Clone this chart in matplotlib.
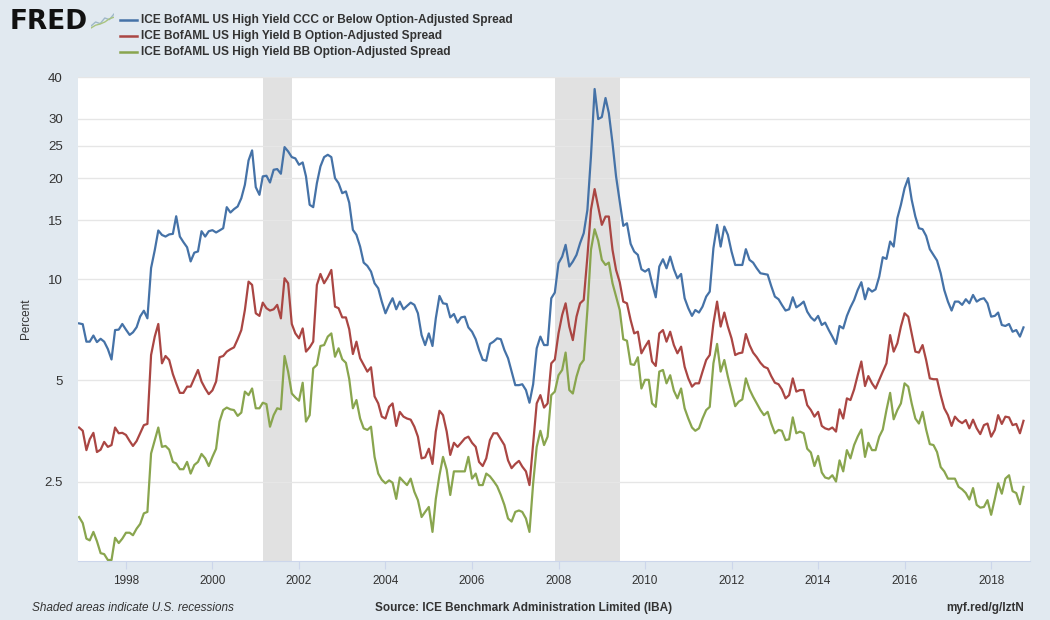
import matplotlib
matplotlib.use("Agg")
import matplotlib.pyplot as plt
import matplotlib.ticker as mticker
import matplotlib.dates as mdates
import pandas as pd

# monthly averages, Dec 1996 .. Oct 2018 (percent)
ccc = [7.39,
       7.35, 6.52, 6.52, 6.80, 6.50, 6.65, 6.52, 6.20, 5.77, 7.06, 7.08, 7.36,  # 1997
       7.08, 6.83, 6.95, 7.20, 7.75, 8.06, 7.65, 10.8, 12.2, 13.97, 13.55, 13.4,  # 1998
       13.6, 13.65, 15.4, 13.4, 12.9, 12.45, 11.3, 12.0, 12.1, 13.9, 13.4, 13.9,  # 1999
       14.0, 13.78, 13.97, 14.19, 16.39, 15.80, 16.17, 16.47, 17.43, 19.11, 22.58, 24.19,  # 2000
       18.80, 17.84, 20.24, 20.33, 19.41, 21.18, 21.28, 20.61, 24.74, 24.02, 23.10, 22.90,  # 2001
       21.92, 22.27, 20.24, 16.66, 16.39, 19.32, 21.67, 23.10, 23.47, 23.10, 20.00, 19.32,  # 2002
       18.04, 18.26, 16.9, 14.03, 13.56, 12.51, 11.21, 10.96, 10.54, 9.73, 9.40, 8.58,  # 2003
       7.92, 8.39, 8.78, 8.14, 8.58, 8.14, 8.33, 8.52, 8.39, 7.92, 6.82, 6.37,  # 2004
       6.90, 6.33, 7.65, 8.92, 8.48, 8.44, 7.70, 7.88, 7.43, 7.70, 7.74, 7.19,  # 2005
       6.98, 6.63, 6.16, 5.76, 5.72, 6.42, 6.52, 6.67, 6.63, 6.16, 5.82, 5.31,  # 2006
       4.84, 4.84, 4.87, 4.68, 4.29, 4.87, 6.23, 6.75, 6.37, 6.37, 8.78, 9.13,  # 2007
       11.16, 11.68, 12.66, 10.91, 11.29, 11.82, 12.80, 13.71, 16.09, 23.21, 36.84, 29.98,  # 2008
       30.40, 34.63, 31.25, 25.43, 20.24, 17.0, 14.42, 14.68, 12.75, 12.09, 11.82, 10.71,  # 2009
       10.54, 10.73, 9.73, 8.84, 10.91, 11.47, 10.78, 11.68, 10.71, 10.07, 10.37, 8.78,  # 2010
       8.20, 7.78, 8.10, 7.96, 8.29, 8.88, 9.19, 12.37, 14.52, 12.51, 14.35, 13.56,  # 2011
       12.09, 11.03, 11.03, 11.03, 12.29, 11.42, 11.21, 10.78, 10.42, 10.37, 10.32, 9.55,  # 2012
       8.88, 8.72, 8.39, 8.07, 8.14, 8.84, 8.25, 8.39, 8.58, 8.01, 7.70, 7.53,  # 2013
       7.78, 7.31, 7.43, 7.06, 6.75, 6.42, 7.26, 7.14, 7.78, 8.25, 8.68, 9.29,  # 2014
       9.80, 8.72, 9.40, 9.19, 9.33, 10.18, 11.63, 11.50, 12.95, 12.51, 15.20, 16.66,  # 2015
       18.67, 20.0, 17.24, 15.37, 14.19, 14.09, 13.46, 12.29, 11.82, 11.37, 10.42, 9.29,  # 2016
       8.58, 8.07, 8.58, 8.58, 8.39, 8.72, 8.48, 8.98, 8.58, 8.72, 8.78, 8.48,  # 2017
       7.74, 7.78, 7.96, 7.31, 7.26, 7.36, 6.98, 7.06, 6.75, 7.19]  # 2018

b = [3.62,
     3.54, 3.10, 3.34, 3.49, 3.06, 3.11, 3.28, 3.17, 3.21, 3.62, 3.48, 3.49,  # 1997
     3.44, 3.30, 3.19, 3.30, 3.48, 3.68, 3.71, 5.95, 6.75, 7.36, 5.62, 5.91,  # 1998
     5.75, 5.22, 4.90, 4.59, 4.59, 4.79, 4.79, 5.07, 5.37, 4.96, 4.73, 4.55,  # 1999
     4.67, 4.96, 5.86, 5.91, 6.09, 6.19, 6.27, 6.63, 7.06, 8.10, 9.84, 9.62,  # 2000
     7.92, 7.78, 8.52, 8.20, 8.07, 8.14, 8.39, 7.65, 10.07, 9.73, 7.36, 6.90,  # 2001
     6.67, 7.14, 6.09, 6.27, 6.52, 9.62, 10.37, 9.73, 10.14, 10.66, 8.29, 8.20,  # 2002
     7.70, 7.70, 7.10, 5.99, 6.52, 5.82, 5.56, 5.31, 5.47, 4.48, 4.27, 3.90,  # 2003
     3.85, 4.17, 4.27, 3.66, 4.03, 3.90, 3.85, 3.82, 3.64, 3.40, 2.93, 2.95,  # 2004
     3.13, 2.82, 3.52, 4.06, 3.94, 3.52, 3.00, 3.26, 3.17, 3.26, 3.36, 3.40,  # 2005
     3.26, 3.17, 2.86, 2.78, 2.93, 3.32, 3.48, 3.48, 3.34, 3.21, 2.89, 2.74,  # 2006
     2.82, 2.88, 2.77, 2.68, 2.44, 3.25, 4.27, 4.52, 4.15, 4.27, 5.62, 5.77,  # 2007
     6.90, 7.83, 8.48, 7.23, 6.59, 7.74, 8.48, 8.68, 11.68, 16.09, 18.55, 16.47,  # 2008
     14.52, 15.37, 15.37, 12.23, 10.66, 9.8, 8.58, 8.48, 7.56, 6.90, 6.98, 6.02,  # 2009
     6.30, 6.56, 5.69, 5.52, 6.90, 7.06, 6.52, 6.98, 6.37, 6.02, 6.30, 5.49,  # 2010
     5.07, 4.79, 4.90, 4.90, 5.31, 5.75, 5.95, 7.39, 8.58, 7.23, 7.96, 7.23,  # 2011
     6.67, 5.95, 6.02, 6.05, 6.87, 6.37, 6.05, 5.86, 5.64, 5.49, 5.43, 5.15,  # 2012
     4.92, 4.87, 4.70, 4.42, 4.52, 5.07, 4.63, 4.68, 4.68, 4.22, 4.08, 3.90,  # 2013
     4.03, 3.66, 3.60, 3.57, 3.62, 3.52, 4.10, 3.85, 4.42, 4.37, 4.70, 5.18,  # 2014
     5.69, 4.81, 5.15, 4.90, 4.73, 5.02, 5.31, 5.62, 6.82, 6.09, 6.45, 7.23,  # 2015
     7.92, 7.74, 6.90, 6.09, 6.05, 6.37, 5.75, 5.07, 5.04, 5.04, 4.52, 4.13,  # 2016
     3.94, 3.66, 3.90, 3.79, 3.73, 3.81, 3.60, 3.82, 3.60, 3.46, 3.68, 3.72,  # 2017
     3.40, 3.56, 3.94, 3.71, 3.90, 3.88, 3.68, 3.71, 3.48, 3.79]  # 2018

bb = [1.96,
      1.88, 1.69, 1.67, 1.77, 1.66, 1.53, 1.52, 1.46, 1.46, 1.70, 1.64, 1.69,  # 1997
      1.76, 1.76, 1.73, 1.81, 1.87, 2.01, 2.03, 3.03, 3.32, 3.62, 3.17, 3.19,  # 1998
      3.11, 2.86, 2.83, 2.72, 2.72, 2.86, 2.64, 2.80, 2.86, 3.02, 2.93, 2.78,  # 1999
      2.96, 3.13, 3.77, 4.08, 4.15, 4.10, 4.08, 3.92, 4.01, 4.63, 4.52, 4.73,  # 2000
      4.13, 4.13, 4.29, 4.25, 3.64, 3.94, 4.13, 4.10, 5.91, 5.31, 4.57, 4.45,  # 2001
      4.35, 4.92, 3.77, 3.94, 5.43, 5.56, 6.33, 6.37, 6.75, 6.90, 5.88, 6.23,  # 2002
      5.78, 5.64, 5.05, 4.13, 4.37, 3.85, 3.60, 3.56, 3.64, 2.96, 2.64, 2.53,  # 2003
      2.47, 2.52, 2.48, 2.22, 2.57, 2.50, 2.44, 2.55, 2.33, 2.20, 1.96, 2.03,  # 2004
      2.10, 1.77, 2.22, 2.61, 2.96, 2.71, 2.28, 2.68, 2.68, 2.68, 2.68, 2.96,  # 2005
      2.55, 2.64, 2.44, 2.44, 2.64, 2.59, 2.51, 2.42, 2.28, 2.13, 1.94, 1.90,  # 2006
      2.03, 2.05, 2.03, 1.94, 1.77, 2.47, 3.17, 3.54, 3.21, 3.40, 4.52, 4.63,  # 2007
      5.18, 5.37, 6.05, 4.68, 4.57, 5.13, 5.56, 5.75, 8.10, 12.23, 14.09, 13.04,  # 2008
      11.42, 11.03, 11.21, 9.73, 8.88, 8.1, 6.63, 6.56, 5.59, 5.56, 5.86, 4.73,  # 2009
      5.02, 5.02, 4.27, 4.17, 5.31, 5.37, 4.90, 5.18, 4.66, 4.42, 4.73, 4.13,  # 2010
      3.85, 3.62, 3.54, 3.60, 3.85, 4.08, 4.17, 5.62, 6.42, 5.31, 5.75, 5.13,  # 2011
      4.63, 4.19, 4.32, 4.39, 5.07, 4.70, 4.47, 4.27, 4.08, 3.94, 4.03, 3.72,  # 2012
      3.48, 3.56, 3.54, 3.32, 3.34, 3.88, 3.48, 3.52, 3.48, 3.13, 3.05, 2.78,  # 2013
      2.98, 2.66, 2.57, 2.55, 2.61, 2.50, 2.89, 2.68, 3.10, 2.93, 3.21, 3.40,  # 2014
      3.57, 2.96, 3.26, 3.10, 3.10, 3.40, 3.57, 4.08, 4.59, 3.83, 4.08, 4.27,  # 2015
      4.90, 4.79, 4.27, 3.85, 3.72, 4.03, 3.57, 3.23, 3.21, 3.06, 2.76, 2.68,  # 2016
      2.55, 2.55, 2.55, 2.41, 2.37, 2.31, 2.21, 2.39, 2.13, 2.09, 2.10, 2.20,  # 2017
      1.99, 2.22, 2.47, 2.30, 2.55, 2.61, 2.34, 2.31, 2.14, 2.41]  # 2018

start = "1996-12-01"
series_labels = [
    "ICE BofAML US High Yield CCC or Below Option-Adjusted Spread",
    "ICE BofAML US High Yield B Option-Adjusted Spread",
    "ICE BofAML US High Yield BB Option-Adjusted Spread",
]
colors = ["#4572a7", "#aa4643", "#89a54e"]
yticks = [2.5, 5, 10, 15, 20, 25, 30, 40]
ytick_labels = ["2.5", "5", "10", "15", "20", "25", "30", "40"]
recessions = [("2001-03-01", "2001-11-01"), ("2007-12-01", "2009-06-01")]

BG = "#e1e9f0"
TXT = "#333333"
W, H = 1050, 620
plt.rcParams["font.family"] = ["Liberation Sans", "DejaVu Sans"]

fig = plt.figure(figsize=(W / 100, H / 100), dpi=100, facecolor=BG)
ax = fig.add_axes([78 / W, 1 - 561 / H, 952 / W, 484 / H])
ax.set_facecolor("white")

for r0, r1 in recessions:
    ax.axvspan(pd.Timestamp(r0), pd.Timestamp(r1), color="#e1e1e1", lw=0, zorder=1)

for vals, c in zip([ccc, b, bb], colors):
    dates = pd.date_range(start, periods=len(vals), freq="MS")
    ax.plot(dates, vals, color=c, lw=1.6, zorder=3, solid_joinstyle="round")

ax.set_yscale("log")
ax.set_ylim(1.45, 40)
ax.yaxis.set_major_locator(mticker.FixedLocator(yticks))
ax.yaxis.set_major_formatter(mticker.FixedFormatter(ytick_labels))
ax.yaxis.set_minor_locator(mticker.NullLocator())
ax.yaxis.grid(True, color="#e6e6e6", lw=1, zorder=2)
ax.set_xlim(pd.Timestamp("1996-11-22"), pd.Timestamp("2018-11-25"))
ax.xaxis.set_major_locator(mdates.YearLocator(2, month=1, day=1))
ax.xaxis.set_major_formatter(mdates.DateFormatter("%Y"))

for s in ["top", "right", "left"]:
    ax.spines[s].set_visible(False)
ax.spines["bottom"].set_color("#ccd6eb")
ax.tick_params(axis="y", length=0, pad=11, labelsize=9.5, labelcolor=TXT)
ax.tick_params(axis="x", length=6, color="#ccd6eb", pad=4, labelsize=8.5, labelcolor=TXT)
ax.set_ylabel("Percent", fontsize=8.5, color=TXT, labelpad=9)

# header: FRED logo and legend
fig.text(10 / W, 1 - 22 / H, "FRED", fontsize=19, fontweight="bold", color="#111111",
         va="center", ha="left", family="DejaVu Sans")
icon = fig.add_axes([91 / W, 1 - 30 / H, 23 / W, 18 / H])
icon.set_facecolor("#dfe8ee")
icon.plot([0, 1, 2, 3, 4, 5], [1, 2, 1.6, 3, 2.6, 4], color="#9fb8c8", lw=1)
icon.plot([0, 1, 2, 3, 4, 5], [0.5, 1.2, 1.5, 2.0, 2.8, 3.2], color="#a9c47f", lw=1)
icon.set_xlim(0, 5)
icon.set_ylim(0, 4.5)
icon.axis("off")

for i, (lab, c) in enumerate(zip(series_labels, colors)):
    yy = 1 - (19.5 + 16 * i) / H
    fig.add_artist(plt.Line2D([120 / W, 137 / W], [yy, yy], color=c, lw=1.8,
                              transform=fig.transFigure))
    fig.text(141 / W, yy, lab, fontsize=8.6, color=TXT, va="center", ha="left",
             fontweight="bold")

# footer
fig.text(32 / W, 1 - 608 / H, "Shaded areas indicate U.S. recessions", fontsize=8.5,
         style="italic", color=TXT, va="center", ha="left")
fig.text(375 / W, 1 - 608 / H, "Source: ICE Benchmark Administration Limited (IBA)",
         fontsize=8.5, color=TXT, va="center", ha="left", fontweight="bold")
fig.text(1024 / W, 1 - 608 / H, "myf.red/g/lztN", fontsize=8.5, color=TXT,
         va="center", ha="right", fontweight="bold")

fig.savefig("out.png", dpi=100, facecolor=BG)
